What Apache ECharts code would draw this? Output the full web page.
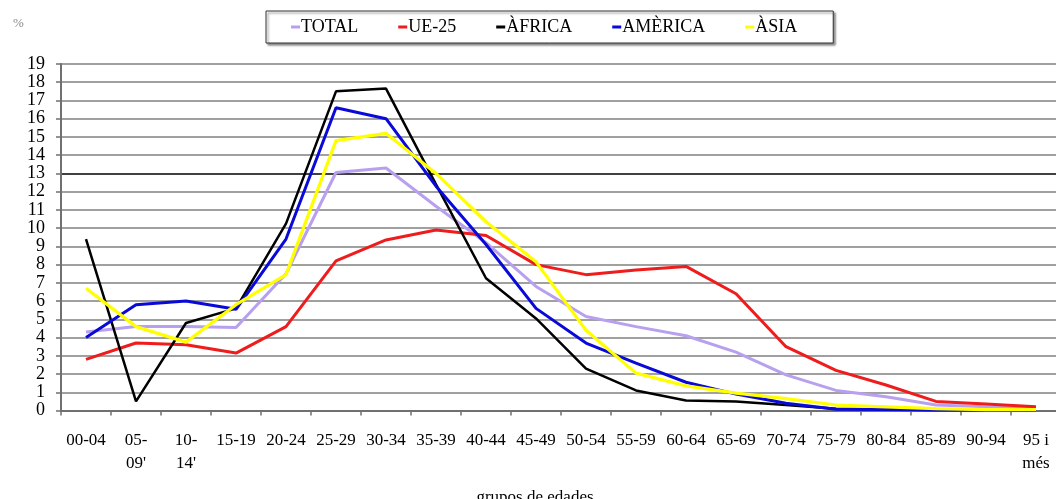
<!DOCTYPE html>
<html><head><meta charset="utf-8">
<script src="https://cdn.jsdelivr.net/npm/echarts@6/dist/echarts.min.js"></script>
<style>html,body{margin:0;padding:0;background:#fff}#c{width:1056px;height:499px}</style>
</head><body><div id="c"></div>
<script>
const categories = ['00-04', "05-\n09'", "10-\n14'", '15-19', '20-24', '25-29', '30-34', '35-39', '40-44', '45-49', '50-54', '55-59', '60-64', '65-69', '70-74', '75-79', '80-84', '85-89', '90-94', '95 i\nmés'];
const total   = [4.3, 4.6, 4.6, 4.55, 7.5, 13.05, 13.3, 11.2, 9.2, 6.8, 5.15, 4.6, 4.1, 3.2, 1.95, 1.1, 0.75, 0.3, 0.2, 0.1];
const ue25    = [2.8, 3.7, 3.6, 3.15, 4.6, 8.2, 9.35, 9.9, 9.6, 8.0, 7.45, 7.7, 7.9, 6.4, 3.5, 2.2, 1.4, 0.5, 0.35, 0.2];
const africa  = [9.4, 0.5, 4.8, 5.6, 10.25, 17.5, 17.65, 12.4, 7.25, 5.05, 2.3, 1.1, 0.55, 0.5, 0.3, 0.1, 0.05, 0.03, 0.03, 0.02];
const america = [4.0, 5.8, 6.0, 5.55, 9.4, 16.6, 16.0, 12.3, 9.1, 5.6, 3.7, 2.6, 1.55, 0.9, 0.4, 0.07, 0.05, 0.03, 0.03, 0.02];
const asia    = [6.7, 4.6, 3.75, 5.8, 7.45, 14.8, 15.2, 13.0, 10.35, 8.15, 4.4, 2.05, 1.35, 0.95, 0.65, 0.3, 0.2, 0.1, 0.05, 0.05];
const seriesNames = ['TOTAL', 'UE-25', 'ÀFRICA', 'AMÈRICA', 'ÀSIA'];
const yTicks = [0, 19, 1];

const colors = ['#b8a0ee', '#ee1c1c', '#000000', '#0a0ad8', '#ffff00'];
const widths = [3, 3, 2.5, 3, 3.2];
const dataSets = [total, ue25, africa, america, asia];
const serif = '"Liberation Serif", "DejaVu Serif", serif';

const splitColors = [];
for (let i = 0; i <= 19; i++) splitColors.push(i === 13 ? '#000000' : '#808080');

const chart = echarts.init(document.getElementById('c'), null, {renderer: 'canvas'});
chart.setOption({
  animation: false,
  backgroundColor: '#ffffff',
  title: {text: '%', left: 8, top: 12, textStyle: {fontFamily: serif, fontSize: 13, fontWeight: 'normal', color: '#888'}},
  legend: {
    top: 11, left: 266,
    data: seriesNames.map((n, i) => ({name: n, icon: 'rect', itemStyle: {color: colors[i]}})),
    itemWidth: 9, itemHeight: 3, itemGap: 40,
    padding: [7, 36, 7, 25],
    borderColor: '#333', borderWidth: 1,
    shadowColor: 'rgba(0,0,0,0.45)', shadowOffsetX: 2, shadowOffsetY: 2, shadowBlur: 2,
    backgroundColor: '#fff',
    textStyle: {fontFamily: serif, fontSize: 18, color: '#000', padding: [0, 0, 0, -4]}
  },
  grid: {left: 61, right: -5, top: 64, bottom: 88.5, containLabel: false, outerBoundsMode: 'none'},
  xAxis: {
    type: 'category', data: categories, boundaryGap: true,
    name: 'grupos de edades', nameLocation: 'middle', nameGap: 79,
    nameTextStyle: {fontFamily: serif, fontSize: 17, color: '#000', padding: [0, 52, 0, 0]},
    axisLine: {lineStyle: {color: '#707070', width: 2}},
    axisTick: {show: true, alignWithLabel: false, length: 5, lineStyle: {color: '#707070', width: 1.5}},
    axisLabel: {fontFamily: serif, fontSize: 17, color: '#000', margin: 19, interval: 0, lineHeight: 23}
  },
  yAxis: {
    type: 'value', min: yTicks[0], max: yTicks[1], interval: yTicks[2],
    axisLine: {show: true, lineStyle: {color: '#707070', width: 2}},
    axisTick: {show: true, length: 5, lineStyle: {color: '#707070', width: 1.5}},
    axisLabel: {fontFamily: serif, fontSize: 18, lineHeight: 16, color: '#000', margin: 16, showMinLabel: true, showMaxLabel: true, hideOverlap: false},
    splitLine: {show: true, showMinLine: true, showMaxLine: true, lineStyle: {color: splitColors, width: 1.6}}
  },
  series: seriesNames.map((n, i) => ({
    name: n, type: 'line', data: dataSets[i], symbol: 'none',
    lineStyle: {color: colors[i], width: widths[i]}, itemStyle: {color: colors[i]}
  }))
});
</script></body></html>
